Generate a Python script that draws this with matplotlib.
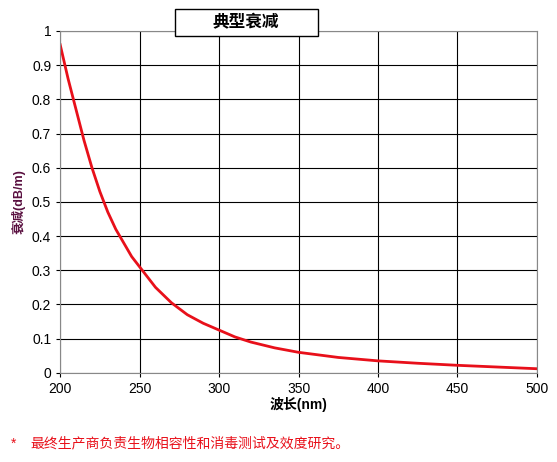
import numpy as np
import matplotlib.pyplot as plt
from matplotlib.patches import Rectangle

plt.rcParams['font.family'] = ['Liberation Sans', 'Noto Sans CJK SC']

# wavelength (nm) and attenuation (dB/m)
wavelength = [200, 202, 205, 210, 215, 220, 225, 230, 235, 240, 245, 250, 255, 260, 270,
              280, 290, 300, 310, 320, 335, 350, 375, 400, 425, 450, 475, 500]
attenuation = [0.96, 0.92, 0.86, 0.77, 0.68, 0.60, 0.53, 0.47, 0.42, 0.38, 0.34, 0.31, 0.28,
               0.25, 0.205, 0.17, 0.145, 0.125, 0.105, 0.09, 0.073, 0.06, 0.045, 0.035,
               0.028, 0.022, 0.017, 0.012]
title_text = "典型衰减"
x_label = "波长(nm)"
y_label = "衰减(dB/m)"
note_text = "最终生产商负责生物相容性和消毒测试及效度研究。"

fig = plt.figure(figsize=(5.57, 4.62), dpi=100)
ax = fig.add_axes([0.108, 0.193, 0.856, 0.74])
ax.plot(wavelength, attenuation, color='#e8101a', linewidth=2)
ax.set_xlim(200, 500)
ax.set_ylim(0, 1)
ax.set_xticks(np.arange(200, 501, 50))
ax.set_yticks(np.arange(0, 1.01, 0.1))
ax.set_yticklabels(['0', '0.1', '0.2', '0.3', '0.4', '0.5', '0.6', '0.7', '0.8', '0.9', '1'])
ax.grid(True, color='black', linewidth=0.8)
ax.tick_params(labelsize=10, length=3)
for s in ax.spines.values():
    s.set_color('#888888')
ax.set_xlabel(x_label, fontsize=10, labelpad=1, fontweight='bold')
ax.set_ylabel(y_label, fontsize=9, labelpad=4, color='#5a1040', fontweight='bold')

fig.patches.append(Rectangle((0.314, 0.922), 0.257, 0.058, transform=fig.transFigure,
                             facecolor='white', edgecolor='black', linewidth=1, zorder=5))
fig.text(0.442, 0.951, title_text, fontsize=12, fontweight='bold', ha='center', va='center',
         zorder=6)
fig.text(0.02, 0.04, "*", color='#e8101a', fontsize=10, va='center')
fig.text(0.055, 0.04, note_text, color='#e8101a', fontsize=10, va='center')

fig.savefig('out.png', dpi=100)
